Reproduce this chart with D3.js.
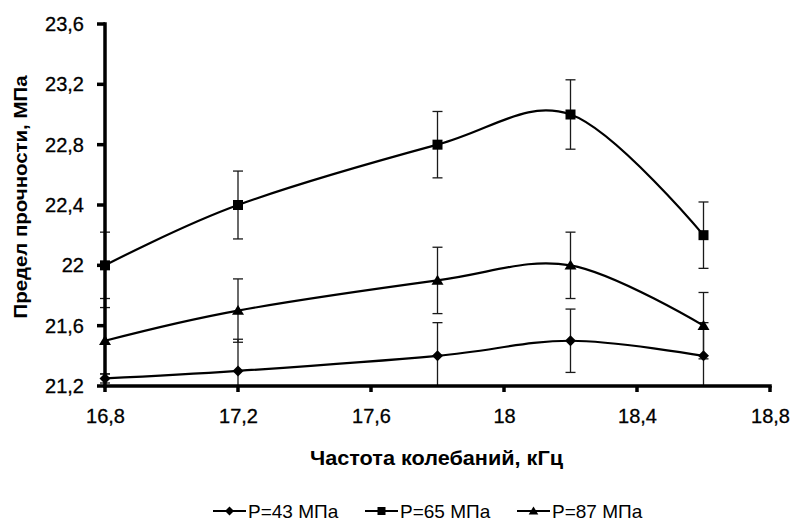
<!DOCTYPE html>
<html>
<head>
<meta charset="utf-8">
<script src="https://cdn.jsdelivr.net/npm/d3@7"></script>
<style>
  body { margin: 0; background: #fff; }
  svg { display: block; font-family: "Liberation Sans", Arial, sans-serif; }
</style>
</head>
<body>
<svg id="chart"></svg>
<script>
// data
const freq = [16.8, 17.2, 17.8, 18.2, 18.6];
const p43 = [21.25, 21.3, 21.4, 21.5, 21.4];
const p65 = [22.0, 22.4, 22.8, 23.0, 22.2];
const p87 = [21.5, 21.7, 21.9, 22.0, 21.6];
const err43 = [0.03, 0.21, 0.22, 0.21, 0.22];
const err65 = [0.22, 0.225, 0.22, 0.23, 0.22];
const err87 = [0.22, 0.21, 0.22, 0.22, 0.22];
const seriesNames = ["P=43 МПа", "P=65 МПа", "P=87 МПа"];
const xTicks = [16.8, 17.2, 17.6, 18, 18.4, 18.8];
const xTickLabels = ["16,8", "17,2", "17,6", "18", "18,4", "18,8"];
const yTicks = [21.2, 21.6, 22, 22.4, 22.8, 23.2, 23.6];
const yTickLabels = ["21,2", "21,6", "22", "22,4", "22,8", "23,2", "23,6"];
const xTitle = "Частота колебаний, кГц";
const yTitle = "Предел прочности, МПа";

const width = 791, height = 522;
const margin = { left: 105, right: 21, top: 24, bottom: 136 };

const svg = d3.select("#chart").attr("width", width).attr("height", height);

const x = d3.scaleLinear().domain([16.8, 18.8]).range([margin.left, width - margin.right]);
const y = d3.scaleLinear().domain([21.2, 23.6]).range([height - margin.bottom, margin.top]);

// clip for error bars
svg.append("clipPath").attr("id", "plotClip")
  .append("rect")
  .attr("x", x(16.8) - 10).attr("y", y(23.6))
  .attr("width", x(18.8) - x(16.8) + 20).attr("height", y(21.2) - y(23.6));

const series = [
  { name: seriesNames[0], vals: p43, err: err43, sym: "diamond" },
  { name: seriesNames[1], vals: p65, err: err65, sym: "square" },
  { name: seriesNames[2], vals: p87, err: err87, sym: "triangle" },
];

function drawMarker(g, sym, cx, cy, s) {
  if (sym === "square") {
    g.append("rect").attr("x", cx - s / 2).attr("y", cy - s / 2)
      .attr("width", s).attr("height", s).attr("fill", "#000");
  } else if (sym === "diamond") {
    const r = s / 2 + 0.5;
    g.append("path").attr("d", `M${cx},${cy - r}L${cx + r},${cy}L${cx},${cy + r}L${cx - r},${cy}Z`)
      .attr("fill", "#000");
  } else {
    const h = s * 0.95, w = s * 1.2;
    g.append("path").attr("d", `M${cx},${cy - h * 0.6}L${cx + w / 2},${cy + h * 0.45}L${cx - w / 2},${cy + h * 0.45}Z`)
      .attr("fill", "#000");
  }
}

// error bars
const gErr = svg.append("g").attr("clip-path", "url(#plotClip)")
  .attr("stroke", "#1a1a1a").attr("stroke-width", 1.3);
series.forEach(s => {
  freq.forEach((f, i) => {
    const cx = x(f), lo = y(s.vals[i] - s.err[i]), hi = y(s.vals[i] + s.err[i]);
    gErr.append("line").attr("x1", cx).attr("x2", cx).attr("y1", lo).attr("y2", hi);
    gErr.append("line").attr("x1", cx - 5).attr("x2", cx + 5).attr("y1", lo).attr("y2", lo);
    gErr.append("line").attr("x1", cx - 5).attr("x2", cx + 5).attr("y1", hi).attr("y2", hi);
  });
});

// smoothed lines
const line = d3.line()
  .x((d, i) => x(freq[i]))
  .y(d => y(d))
  .curve(d3.curveCardinal.tension(0));

series.forEach(s => {
  svg.append("path").datum(s.vals).attr("d", line)
    .attr("fill", "none").attr("stroke", "#000").attr("stroke-width", 2.2);
});

// axes: labels from d3 axes, heavy lines drawn explicitly
const xAxis = d3.axisBottom(x).tickValues(xTicks)
  .tickFormat((d, i) => xTickLabels[i]).tickSize(0).tickSizeOuter(0).tickPadding(23);
const yAxis = d3.axisLeft(y).tickValues(yTicks)
  .tickFormat((d, i) => yTickLabels[i]).tickSize(0).tickSizeOuter(0).tickPadding(21);

const gx = svg.append("g").attr("transform", `translate(0,${y(21.2)})`).call(xAxis);
const gy = svg.append("g").attr("transform", `translate(${x(16.8)},0)`).call(yAxis);
[gx, gy].forEach(g => {
  g.select("path.domain").remove();
  g.selectAll(".tick line").remove();
  g.selectAll(".tick text").attr("fill", "#000").attr("font-size", 20)
    .attr("font-family", "'Liberation Sans', Arial, sans-serif")
    .attr("stroke", "#000").attr("stroke-width", 0.3);
});

const gAx = svg.append("g").attr("stroke", "#000").attr("stroke-width", 3.5).attr("stroke-linecap", "square");
gAx.append("line").attr("x1", x(16.8)).attr("x2", x(16.8)).attr("y1", y(23.6)).attr("y2", y(21.2));
gAx.append("line").attr("x1", x(16.8)).attr("x2", x(18.8)).attr("y1", y(21.2)).attr("y2", y(21.2));
gAx.selectAll(".yt").data(yTicks).join("line").attr("class", "yt")
  .attr("stroke-linecap", "butt")
  .attr("x1", x(16.8) - 8).attr("x2", x(16.8)).attr("y1", d => y(d)).attr("y2", d => y(d));
gAx.selectAll(".xt").data(xTicks).join("line").attr("class", "xt")
  .attr("stroke-linecap", "butt")
  .attr("x1", d => x(d)).attr("x2", d => x(d)).attr("y1", y(21.2)).attr("y2", y(21.2) + 6);

// markers on top
series.forEach(s => {
  const g = svg.append("g");
  freq.forEach((f, i) => drawMarker(g, s.sym, x(f), y(s.vals[i]), 10));
});

// titles
svg.append("text")
  .attr("x", 436.5).attr("y", 465)
  .attr("text-anchor", "middle").attr("font-size", 21).attr("font-weight", "bold")
  .attr("textLength", 253).attr("lengthAdjust", "spacingAndGlyphs")
  .text(xTitle);

svg.append("text")
  .attr("transform", "translate(27,197) rotate(-90)")
  .attr("text-anchor", "middle").attr("font-size", 19).attr("font-weight", "bold")
  .attr("textLength", 243).attr("lengthAdjust", "spacingAndGlyphs")
  .text(yTitle);

// legend
const legendX = [213, 365, 517];
const legendY = 511;
series.forEach((s, i) => {
  const g = svg.append("g");
  g.append("line").attr("x1", legendX[i]).attr("x2", legendX[i] + 33)
    .attr("y1", legendY).attr("y2", legendY).attr("stroke", "#000").attr("stroke-width", 2);
  drawMarker(g, s.sym, legendX[i] + 16.5, legendY, 8);
  g.append("text").attr("x", legendX[i] + 35).attr("y", legendY + 7)
    .attr("font-size", 19).attr("fill", "#000").text(s.name);
});
</script>
</body>
</html>
